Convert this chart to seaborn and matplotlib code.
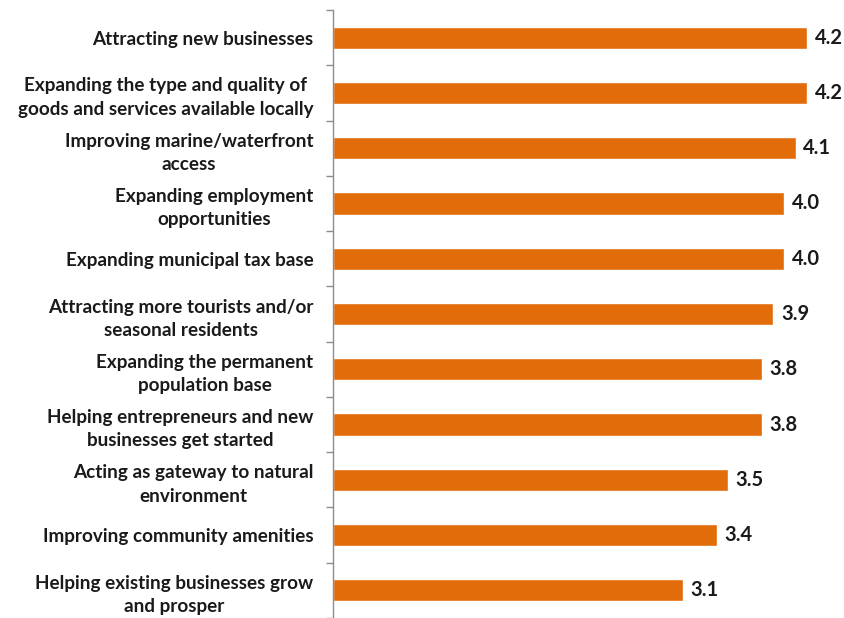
import matplotlib
matplotlib.use("Agg")
import matplotlib.pyplot as plt
import seaborn as sns
import pandas as pd
import numpy as np

categories = [
    "Attracting new businesses",
    "Expanding the type and quality of\ngoods and services available locally",
    "Improving marine/waterfront\naccess",
    "Expanding employment\nopportunities",
    "Expanding municipal tax base",
    "Attracting more tourists and/or\nseasonal residents",
    "Expanding the permanent\npopulation base",
    "Helping entrepreneurs and new\nbusinesses get started",
    "Acting as gateway to natural\nenvironment",
    "Improving community amenities",
    "Helping existing businesses grow\nand prosper",
]
scores = [4.2, 4.2, 4.1, 4.0, 4.0, 3.9, 3.8, 3.8, 3.5, 3.4, 3.1]

df = pd.DataFrame({"item": categories, "score": scores})

sns.set_style("white")
plt.rcParams["font.family"] = ["Lato", "DejaVu Sans"]

fig = plt.figure(figsize=(8.44, 6.18), dpi=100)
ax = fig.add_axes([333 / 844, 0.0, 1 - 333 / 844 - 0.008, 1 - 10 / 618])

sns.barplot(data=df, x="score", y="item", orient="h", color="#E36C0A",
            width=0.4, saturation=1, ax=ax)

ax.set_xlim(0, 4.47)
ax.set_ylim(len(categories) - 0.5, -0.5)
ax.set_xlabel("")
ax.set_ylabel("")
ax.set_xticks([])

for s in ["top", "right", "bottom"]:
    ax.spines[s].set_visible(False)
ax.spines["left"].set_color("#8C8C8C")
ax.spines["left"].set_linewidth(1.0)

# category labels without tick marks; separator ticks between categories
ax.tick_params(axis="y", which="major", left=False, length=0, pad=14)
ax.set_yticks(np.arange(-0.5, len(categories), 1.0), minor=True)
ax.tick_params(axis="y", which="minor", left=True, length=5,
               color="#8C8C8C", width=1.0, direction="out")
for lbl in ax.get_yticklabels():
    lbl.set_fontweight("bold")
    lbl.set_fontsize(13.6)
    lbl.set_multialignment("center")
    lbl.set_linespacing(1.45)
    lbl.set_color("#1a1a1a")

for i, v in enumerate(scores):
    ax.text(v + 0.07, i, f"{v:.1f}", va="center", ha="left",
            fontsize=14.5, fontweight="bold", color="#1a1a1a")

fig.savefig("out.png", dpi=100)
